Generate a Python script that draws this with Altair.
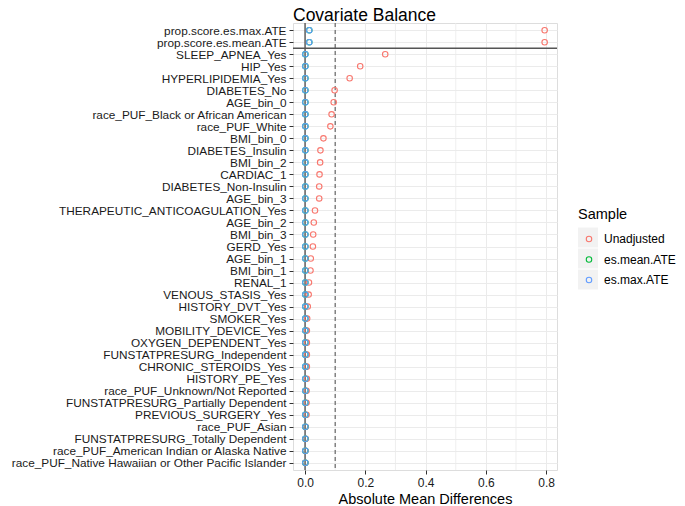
import json
import altair as alt
import pandas as pd

covariates = [
    "prop.score.es.max.ATE", "prop.score.es.mean.ATE", "SLEEP_APNEA_Yes", "HIP_Yes",
    "HYPERLIPIDEMIA_Yes", "DIABETES_No", "AGE_bin_0", "race_PUF_Black or African American",
    "race_PUF_White", "BMI_bin_0", "DIABETES_Insulin", "BMI_bin_2", "CARDIAC_1",
    "DIABETES_Non-Insulin", "AGE_bin_3", "THERAPEUTIC_ANTICOAGULATION_Yes", "AGE_bin_2",
    "BMI_bin_3", "GERD_Yes", "AGE_bin_1", "BMI_bin_1", "RENAL_1", "VENOUS_STASIS_Yes",
    "HISTORY_DVT_Yes", "SMOKER_Yes", "MOBILITY_DEVICE_Yes", "OXYGEN_DEPENDENT_Yes",
    "FUNSTATPRESURG_Independent", "CHRONIC_STEROIDS_Yes", "HISTORY_PE_Yes",
    "race_PUF_Unknown/Not Reported", "FUNSTATPRESURG_Partially Dependent",
    "PREVIOUS_SURGERY_Yes", "race_PUF_Asian", "FUNSTATPRESURG_Totally Dependent",
    "race_PUF_American Indian or Alaska Native",
    "race_PUF_Native Hawaiian or Other Pacific Islander",
]
unadjusted = [
    0.795, 0.795, 0.266, 0.183, 0.148, 0.098, 0.095, 0.088, 0.084, 0.061, 0.051, 0.050,
    0.048, 0.047, 0.047, 0.033, 0.029, 0.027, 0.026, 0.019, 0.018, 0.013, 0.012, 0.009,
    0.007, 0.006, 0.006, 0.006, 0.006, 0.006, 0.005, 0.005, 0.005, 0.002, 0.002, 0.001,
    0.001,
]
es_mean_ate = [0.014, 0.014] + [0.001] * 35
es_max_ate = [0.014, 0.014] + [0.001] * 35

samples = ["Unadjusted", "es.mean.ATE", "es.max.ATE"]
sample_colors = ["#F8766D", "#00BA38", "#619CFF"]
x_ticks = [0.0, 0.2, 0.4, 0.6, 0.8]
x_minor = [0.1, 0.3, 0.5, 0.7]
threshold = 0.1
separator = 1.5

rows = []
for name, vals in zip(samples, [unadjusted, es_mean_ate, es_max_ate]):
    for i, (cov, v) in enumerate(zip(covariates, vals)):
        rows.append({"idx": i, "covariate": cov, "value": v, "Sample": name, "key": name})
df = pd.DataFrame(rows)

label_expr = json.dumps(covariates) + "[datum.value]"

xscale = alt.Scale(domain=[-0.04, 0.836], nice=False, zero=False)
yscale = alt.Scale(domain=[-0.6, 36.6], reverse=True, nice=False, zero=False)

x_axis = alt.Axis(
    values=x_ticks, format=".1f", title="Absolute Mean Differences",
    grid=True, gridColor="#EBEBEB", gridWidth=1, domain=False,
    tickColor="#333333", tickSize=4, labelFontSize=12, labelColor="#1a1a1a",
    labelFont="Liberation Sans", titleFont="Liberation Sans", titleFontSize=14.5,
    titleFontWeight="normal", titleColor="#000000", labelFlush=False,
    labelPadding=3, titlePadding=4,
)
y_axis = alt.Axis(
    values=list(range(len(covariates))), labelExpr=label_expr, title=None,
    grid=True, gridColor="#EBEBEB", gridWidth=1, domain=False,
    tickColor="#333333", tickSize=4, labelFontSize=11.8, labelColor="#1a1a1a",
    labelFont="Liberation Sans", labelOverlap=False, labelLimit=0,
    labelPadding=3,
)

X = lambda f: alt.X(f, scale=xscale, axis=x_axis, title="Absolute Mean Differences")
Y = lambda f: alt.Y(f, scale=yscale, axis=y_axis, title=None)

color_enc = alt.Color(
    "Sample:N",
    scale=alt.Scale(domain=samples, range=sample_colors),
    legend=alt.Legend(
        title=None, orient="none", legendX=290, legendY=210,
        symbolType="circle", symbolSize=30, symbolStrokeWidth=1.1,
        labelFontSize=12, labelFont="Liberation Sans", labelColor="#000000",
        rowPadding=8.5, labelOffset=9, zindex=1,
    ),
)

minor = alt.Chart(pd.DataFrame({"v": x_minor})).mark_rule(
    color="#EBEBEB", strokeWidth=0.8
).encode(x=X("v:Q"))

zero_line = alt.Chart(pd.DataFrame({"v": [0.0]})).mark_rule(
    color="#555555", strokeWidth=1.4
).encode(x=X("v:Q"))

thr_line = alt.Chart(pd.DataFrame({"v": [threshold]})).mark_rule(
    color="#666666", strokeWidth=1.2, strokeDash=[4, 3]
).encode(x=X("v:Q"))

sep_line = alt.Chart(pd.DataFrame({"s": [separator]})).mark_rule(
    color="#555555", strokeWidth=1.4
).encode(y=Y("s:Q"))

bg_keys = alt.Chart(df).mark_point(opacity=0, shape="square").encode(
    x=X("value:Q"),
    y=Y("idx:Q"),
    fill=alt.Fill(
        "key:N",
        scale=alt.Scale(range=["#F2F2F2", "#F2F2F2", "#F2F2F2"]),
        legend=alt.Legend(
            title="Sample", orient="none", legendX=285, legendY=185,
            symbolType="square", symbolSize=400, symbolStrokeWidth=0,
            symbolStrokeColor="transparent", symbolFillColor="#F2F2F2",
            symbolOpacity=1, labelExpr="''", labelFontSize=12,
            titleFontSize=14.5, titleFont="Liberation Sans", titleFontWeight="normal",
            titleColor="#000000", rowPadding=1, titlePadding=5, zindex=0,
        ),
    ),
)


def pts(name, sw):
    return alt.Chart(df).transform_filter(alt.datum.Sample == name).mark_point(
        shape="circle", filled=False, size=30, opacity=1, strokeWidth=sw
    ).encode(x=X("value:Q"), y=Y("idx:Q"), color=color_enc)


layers = [minor, bg_keys, zero_line, thr_line,
          pts("Unadjusted", 1.1), pts("es.mean.ATE", 1.1), pts("es.max.ATE", 1.1),
          sep_line]

chart = alt.layer(*layers).properties(
    width=264,
    height=447,
    title=alt.Title(
        "Covariate Balance", anchor="start", frame="group", fontSize=17.5,
        font="Liberation Sans", fontWeight="normal", color="#000000", offset=-2.5,
    ),
    autosize=alt.AutoSizeParams(type="none"),
    padding={"left": 285, "top": 15, "right": 120, "bottom": 36},
).configure_view(stroke="#4D4D4D", strokeWidth=1.2).configure(background="white")

chart.save("out.html", embed_options={"renderer": "svg", "actions": False})
